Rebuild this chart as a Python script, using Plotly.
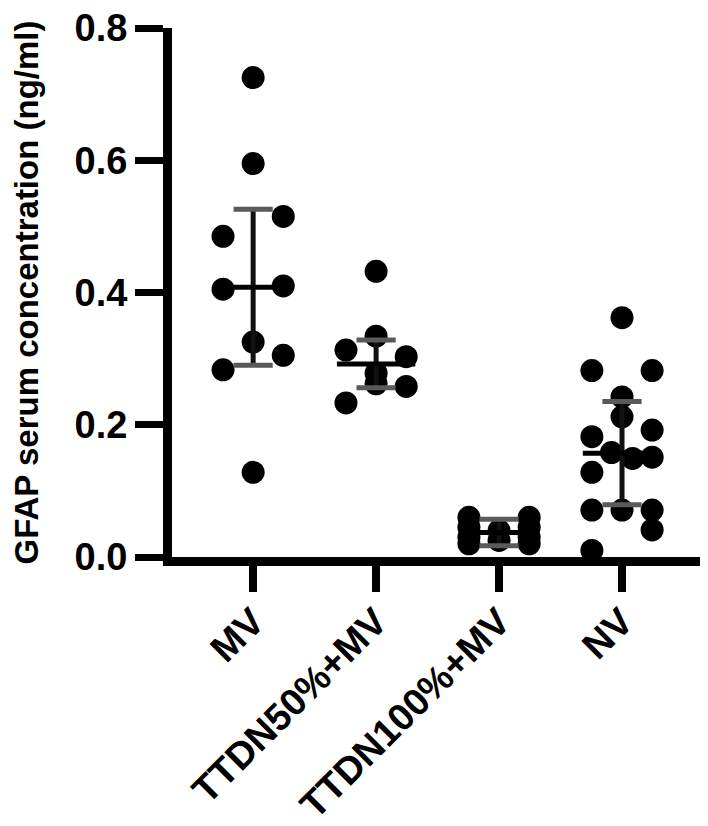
import plotly.graph_objects as go

categories = ["MV", "TTDN50%+MV", "TTDN100%+MV", "NV"]

mv_values = [0.725, 0.595, 0.515, 0.485, 0.41, 0.405, 0.325, 0.305, 0.283, 0.128]
mv_slots = [0, 0, 1, -1, 1, -1, 0, 1, -1, 0]

ttdn50_values = [0.432, 0.334, 0.313, 0.303, 0.278, 0.262, 0.258, 0.233]
ttdn50_slots = [0, 0, -1, 1, 0, 0, 1, -1]

ttdn100_values = [0.06, 0.06, 0.045, 0.045, 0.04, 0.03, 0.03, 0.025, 0.02, 0.02]
ttdn100_slots = [-1, 1, -1, 1, 0, -1, 1, 0, -1, 1]

nv_values = [0.362, 0.282, 0.282, 0.242, 0.212, 0.192, 0.182, 0.158, 0.149, 0.151,
             0.128, 0.071, 0.071, 0.071, 0.041, 0.01]
nv_slots = [0, -1, 1, 0, 0, 1, -1, -0.35, 0.35, 1, -1, -1, 0, 1, 1, -1]

group_means = [0.408, 0.292, 0.037, 0.157]
group_sd = [0.118, 0.036, 0.02, 0.078]

tick_vals_y = [0.0, 0.2, 0.4, 0.6, 0.8]

FONT = "Liberation Sans"
SLOT = 0.245

xs, ys = [], []
for gi, (vals, slots) in enumerate([(mv_values, mv_slots), (ttdn50_values, ttdn50_slots),
                                     (ttdn100_values, ttdn100_slots), (nv_values, nv_slots)]):
    for v, s in zip(vals, slots):
        xs.append(gi + s * SLOT)
        ys.append(v)

fig = go.Figure()
fig.add_trace(go.Scatter(
    x=xs, y=ys, mode="markers",
    marker=dict(color="black", size=23, line=dict(width=0)),
    cliponaxis=False, showlegend=False, hoverinfo="y"))

gx = list(range(len(categories)))
# mean line + vertical SD bar
fig.add_trace(go.Scatter(
    x=gx, y=group_means, mode="markers",
    marker=dict(symbol="line-ew", size=56, color="black",
                line=dict(width=5, color="black")),
    error_y=dict(type="data", array=group_sd, visible=True, width=0,
                 thickness=5, color="#111111"),
    cliponaxis=False, showlegend=False))
# SD caps
cap_x = gx + gx
cap_y = [m + s for m, s in zip(group_means, group_sd)] + [m - s for m, s in zip(group_means, group_sd)]
fig.add_trace(go.Scatter(
    x=cap_x, y=cap_y, mode="markers",
    marker=dict(symbol="line-ew", size=28, color="#5a5a5a",
                line=dict(width=5, color="#5a5a5a")),
    cliponaxis=False, showlegend=False))

fig.update_layout(
    width=708, height=826,
    margin=dict(l=164, r=11, t=20, b=277, autoexpand=False),
    plot_bgcolor="white", paper_bgcolor="white",
    font=dict(family=FONT, color="black", weight="bold"),
    xaxis=dict(
        range=[-0.66, 3.675], tickvals=gx, ticktext=categories, automargin=False,
        tickangle=-45, tickfont=dict(size=38, family=FONT, weight="bold"),
        ticklabelstandoff=-8, ticklabeloverflow="allow",
        showline=True, linewidth=9, linecolor="black",
        ticks="outside", ticklen=26, tickwidth=8, tickcolor="black",
        showgrid=False, zeroline=False),
    yaxis=dict(
        range=[0, 0.8], tickvals=tick_vals_y, tickformat=".1f", automargin=False,
        tickfont=dict(size=38, family=FONT, weight="bold"),
        ticklabeloverflow="allow",
        showline=True, linewidth=9, linecolor="black",
        ticks="outside", ticklen=28, tickwidth=7, tickcolor="black",
        showgrid=False, zeroline=False,
        title=dict(text="GFAP serum concentration (ng/ml)",
                   font=dict(size=33, family=FONT, weight="bold"), standoff=40)),
)

fig.write_html("out.html")
